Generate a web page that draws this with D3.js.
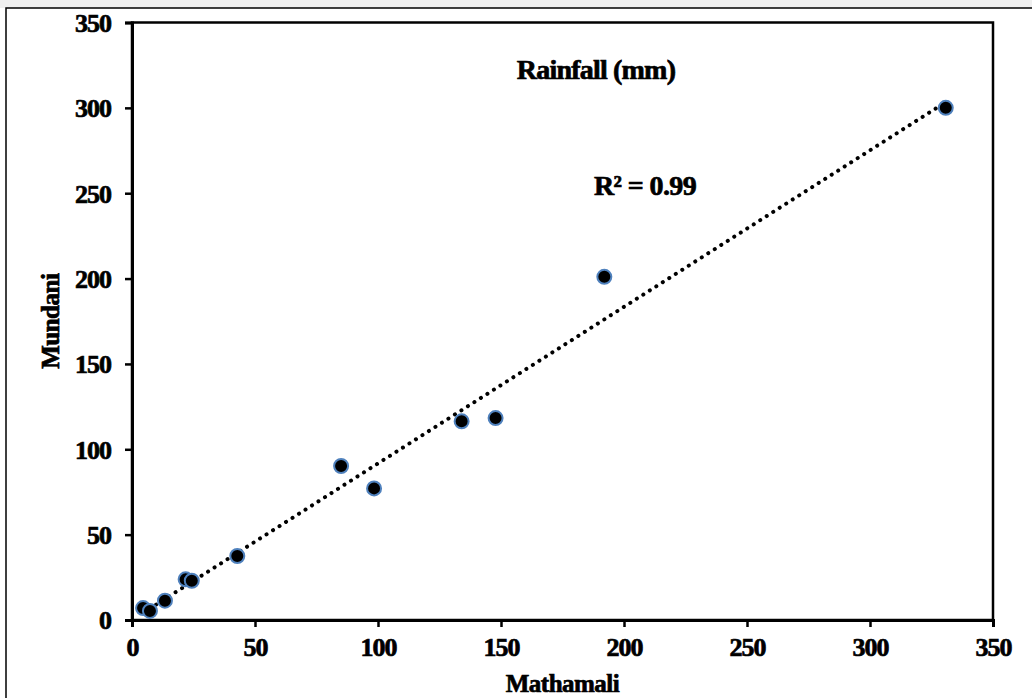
<!DOCTYPE html>
<html>
<head>
<meta charset="utf-8">
<script src="https://cdn.jsdelivr.net/npm/d3@7"></script>
<style>
  html, body { margin: 0; padding: 0; background: #fff; }
  svg { display: block; }
  text { font-family: "Liberation Serif", "Times New Roman", serif; font-weight: bold; fill: #000; }
</style>
</head>
<body>
<svg id="chart" width="1032" height="698"></svg>
<script>
// Rainfall (mm) at two stations
const mathamali = [4.5, 7.3, 13.4, 21.8, 24.3, 42.8, 85, 98.4, 134, 147.8, 192, 330.8];
const mundani   = [7, 5.3, 11.3, 23.8, 23, 37.5, 90.2, 77.1, 116.4, 118.3, 201, 300];
const tickValues = [0, 50, 100, 150, 200, 250, 300, 350];
const chartTitle = "Rainfall (mm)";
const xTitle = "Mathamali";
const yTitle = "Mundani";
const r2Label = "R² = 0.99";

const svg = d3.select("#chart");
const W = 1032, H = 698;
const m = { left: 132, right: 39, top: 22.5, bottom: 78 };

// faint strip along the top edge
svg.append("rect").attr("x", 0).attr("y", 0).attr("width", W).attr("height", 8).attr("fill", "#efefef");
// outer frame
svg.append("rect").attr("x", 6).attr("y", 8).attr("width", W + 10).attr("height", H + 10)
  .attr("fill", "#fff").attr("stroke", "#000").attr("stroke-width", 1.5);

const x = d3.scaleLinear().domain([0, 350]).range([m.left, W - m.right]);
const y = d3.scaleLinear().domain([0, 350]).range([H - m.bottom, m.top]);

// plot box
svg.append("rect")
  .attr("x", x(0)).attr("y", y(350))
  .attr("width", x(350) - x(0)).attr("height", y(0) - y(350))
  .attr("fill", "none").attr("stroke", "#000").attr("stroke-width", 2.5);

const xAxis = svg.append("g").attr("transform", `translate(0,${y(0)})`)
  .call(d3.axisBottom(x).tickValues(tickValues).tickSize(7).tickPadding(9));
const yAxis = svg.append("g").attr("transform", `translate(${x(0)},0)`)
  .call(d3.axisLeft(y).tickValues(tickValues).tickSize(7).tickPadding(14));

[xAxis, yAxis].forEach(g => {
  g.select(".domain").attr("stroke", "#000").attr("stroke-width", 3);
  g.selectAll(".tick line").attr("stroke", "#000").attr("stroke-width", 2.5);
  g.selectAll(".tick text").style("font-size", "26px").style("font-family", "Liberation Serif, serif")
    .style("font-weight", "bold").style("letter-spacing", "-1px")
    .attr("fill", "#000").attr("stroke", "#000").attr("stroke-width", 0.7);
});
yAxis.selectAll(".tick text").attr("dy", "0.34em");
xAxis.selectAll(".tick text").attr("dy", "0.76em");

// least-squares trend line
const pts = mathamali.map((v, i) => [v, mundani[i]]);
const mx = d3.mean(mathamali), my = d3.mean(mundani);
const slope = d3.sum(pts, p => (p[0] - mx) * (p[1] - my)) / d3.sum(pts, p => (p[0] - mx) ** 2);
const icpt = my - slope * mx;
const [x0, x1] = d3.extent(mathamali);
svg.append("line")
  .attr("x1", x(x0)).attr("y1", y(icpt + slope * x0))
  .attr("x2", x(x1)).attr("y2", y(icpt + slope * x1))
  .attr("stroke", "#000").attr("stroke-width", 4)
  .attr("stroke-linecap", "round").attr("stroke-dasharray", "0.1 7.6");

// observations
svg.append("g").selectAll("circle").data(pts).join("circle")
  .attr("cx", d => x(d[0])).attr("cy", d => y(d[1]))
  .attr("r", 7).attr("fill", "#000")
  .attr("stroke", "#4f81bd").attr("stroke-width", 2);

// labels
const heavy = sel => sel.attr("stroke", "#000").attr("stroke-width", 0.7);
svg.append("text").attr("x", 596).attr("y", 79).attr("text-anchor", "middle")
  .style("font-size", "28px").style("letter-spacing", "-0.8px").text(chartTitle).call(heavy);
svg.append("text").attr("x", 645).attr("y", 195).attr("text-anchor", "middle")
  .style("font-size", "28px").style("letter-spacing", "-0.6px").text(r2Label).call(heavy);
svg.append("text").attr("x", (x(0) + x(350)) / 2).attr("y", 692).attr("text-anchor", "middle")
  .style("font-size", "25px").style("letter-spacing", "-0.5px").text(xTitle).call(heavy);
svg.append("text").attr("transform", `translate(59,${(y(0) + y(350)) / 2}) rotate(-90)`)
  .attr("text-anchor", "middle")
  .style("font-size", "25px").style("letter-spacing", "-0.5px").text(yTitle).call(heavy);
</script>
</body>
</html>
